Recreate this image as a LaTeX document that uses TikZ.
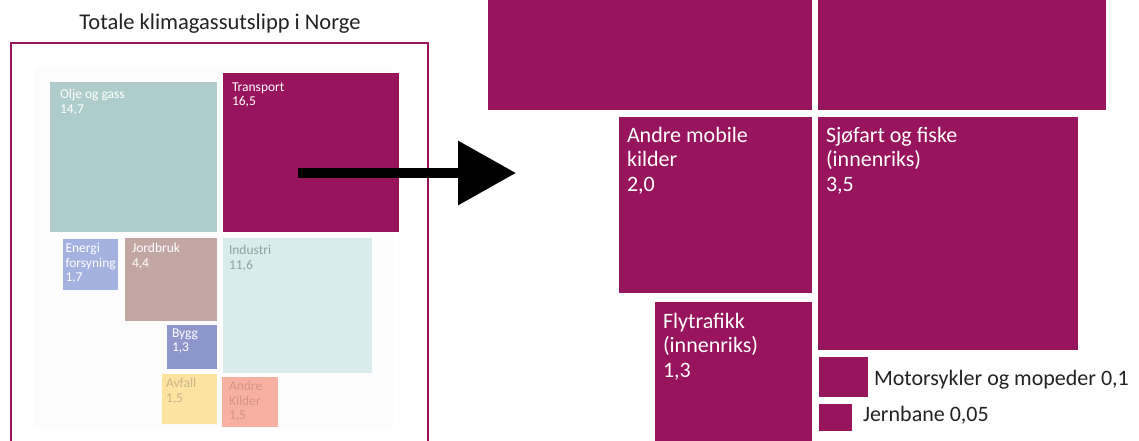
\documentclass[tikz,border=0pt]{standalone}
\usepackage{fontspec}
\setmainfont{Carlito}
\usetikzlibrary{arrows.meta}
\definecolor{tpurple}{RGB}{152,21,94}
\definecolor{cOlje}{RGB}{174,204,203}
\definecolor{cEnergi}{RGB}{163,178,222}
\definecolor{cJord}{RGB}{194,166,161}
\definecolor{cInd}{RGB}{217,235,235}
\definecolor{cBygg}{RGB}{143,150,203}
\definecolor{cAvfall}{RGB}{253,227,160}
\definecolor{cAndre}{RGB}{246,177,162}
\definecolor{cPanel}{RGB}{252,252,252}
\definecolor{tDark}{RGB}{35,35,35}
\begin{document}
\begin{tikzpicture}[x=1pt,y=-1pt,
  box/.style={rectangle, inner sep=0pt, outer sep=0pt, anchor=north west},
  lbl/.style={anchor=north west, inner sep=0pt, outer sep=0pt, align=left, font=\fontsize{13.5}{14.5}\selectfont, text=white},
  biglbl/.style={anchor=north west, inner sep=0pt, outer sep=0pt, align=left, font=\fontsize{22}{24.5}\selectfont, text=white},
  side/.style={anchor=base west, inner sep=0pt, outer sep=0pt, font=\fontsize{22}{24}\selectfont, text=tDark}]
\useasboundingbox (0,0) rectangle (1139,441);
\fill[white] (0,0) rectangle (1139,441);

% title and frame
\node[anchor=base, inner sep=0pt, font=\fontsize{22.5}{26}\selectfont, text=tDark] (title) at (220,30) {Totale klimagassutslipp i Norge};
\node[box, draw=tpurple, line width=2.2pt, minimum width=417pt, minimum height=420pt] (frame) at (11,43) {};
\node[box, fill=cPanel, minimum width=358pt, minimum height=359pt] (panel) at (35,68) {};

% left treemap
\node[box, fill=cOlje, minimum width=167pt, minimum height=150pt] (olje) at (50,82) {};
\node[lbl] (oljeL) at (60,89.5) {Olje og gass\\14,7};
\node[box, fill=tpurple, minimum width=176pt, minimum height=159pt] (transport) at (223,73) {};
\node[lbl] (transportL) at (232,82.5) {Transport\\16,5};
\node[box, fill=cEnergi, minimum width=55pt, minimum height=51pt] (energi) at (63,239) {};
\node[lbl] (energiL) at (65.5,243.5) {Energi\\forsyning\\1,7};
\node[box, fill=cJord, minimum width=92pt, minimum height=83pt] (jordbruk) at (125,238) {};
\node[lbl] (jordbrukL) at (132,243.5) {Jordbruk\\4,4};
\node[box, fill=cInd, minimum width=149pt, minimum height=135pt] (industri) at (223,238) {};
\node[lbl, text={rgb,255:red,150;green,160;blue,160}] (industriL) at (229,245.5) {Industri\\11,6};
\node[box, fill=cBygg, minimum width=50pt, minimum height=44pt] (bygg) at (167,325) {};
\node[lbl] (byggL) at (172,328.5) {Bygg\\1,3};
\node[box, fill=cAvfall, minimum width=55pt, minimum height=50pt] (avfall) at (162,374) {};
\node[lbl, text={rgb,255:red,200;green,183;blue,135}] (avfallL) at (166,378.5) {Avfall\\1,5};
\node[box, fill=cAndre, minimum width=56pt, minimum height=50pt] (andre) at (222,377) {};
\node[lbl, text={rgb,255:red,214;green,148;blue,136}] (andreL) at (229,381.5) {Andre\\Kilder\\1,5};

% right treemap
\node[box, fill=tpurple, minimum width=324pt, minimum height=120pt] (topL) at (488,-10) {};
\node[box, fill=tpurple, minimum width=288pt, minimum height=120pt] (topR) at (818,-10) {};
\node[box, fill=tpurple, minimum width=193pt, minimum height=176pt] (amk) at (619,117) {};
\node[biglbl] (amkL) at (627,126.8) {Andre mobile\\kilder\\2,0};
\node[box, fill=tpurple, minimum width=260pt, minimum height=233pt] (sjo) at (818,117) {};
\node[biglbl] (sjoL) at (826,126.8) {Sjøfart og fiske\\(innenriks)\\3,5};
\node[box, fill=tpurple, minimum width=157pt, minimum height=150pt] (fly) at (655,302) {};
\node[biglbl] (flyL) at (663,312.8) {Flytrafikk\\(innenriks)\\1,3};
\node[box, fill=tpurple, minimum width=49pt, minimum height=40pt] (moto) at (819,357) {};
\node[side] (motoL) at (874,385) {Motorsykler og mopeder 0,1};
\node[box, fill=tpurple, minimum width=33pt, minimum height=27pt] (jern) at (819,404) {};
\node[side] (jernL) at (863,421) {Jernbane 0,05};

% arrow
\coordinate (arrS) at (298,173);
\coordinate (arrE) at (516,173);
\draw[line width=10pt, -{Triangle[length=58pt,width=62pt]}] (arrS) -- (arrE);
\end{tikzpicture}
\end{document}
